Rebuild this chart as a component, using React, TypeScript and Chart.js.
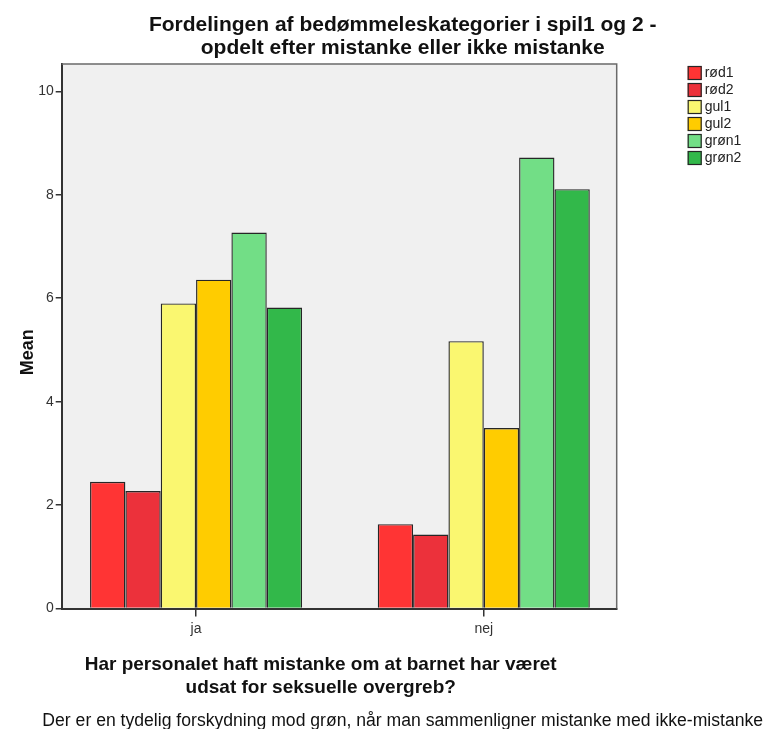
import React, { useEffect, useRef } from "react";
import { Chart, registerables } from "chart.js";

Chart.register(...registerables);

// ---- data ----
const categories = ["ja", "nej"];
const seriesLabels = ["rød1", "rød2", "gul1", "gul2", "grøn1", "grøn2"];
const rod1 = [2.45, 1.63];
const rod2 = [2.27, 1.43];
const gul1 = [5.9, 5.17];
const gul2 = [6.36, 3.49];
const gron1 = [7.27, 8.72];
const gron2 = [5.82, 8.11];
const seriesColors = ["#FF3434", "#EC313B", "#FAF770", "#FFCC00", "#72DE86", "#32B84A"];
const yTicks = [0, 2, 4, 6, 8, 10];
const yMax = 10.53;
const xMin = -0.467;
const xMax = 1.462;

const titleLines = [
  "Fordelingen af bedømmeleskategorier i spil1 og 2 -",
  "opdelt efter mistanke eller ikke mistanke",
];
const xTitleLines = [
  "Har personalet haft mistanke om at barnet har været",
  "udsat for seksuelle overgreb?",
];
const yTitle = "Mean";
const footerText =
  "Der er en tydelig forskydning mod grøn, når man sammenligner mistanke med ikke-mistanke";

const FONT = '"Liberation Sans", Arial, sans-serif';

const decorPlugin = {
  id: "decor",
  beforeDraw(chart: any) {
    const { ctx, chartArea: a } = chart;
    ctx.save();
    ctx.fillStyle = "#FFFFFF";
    ctx.fillRect(0, 0, chart.width, chart.height);
    ctx.fillStyle = "#F0F0F0";
    ctx.fillRect(a.left, a.top, a.right - a.left, a.bottom - a.top);
    ctx.restore();
  },
  afterDraw(chart: any) {
    const { ctx, chartArea: a } = chart;
    ctx.save();
    // frame top/right
    ctx.strokeStyle = "#6A6A6A";
    ctx.lineWidth = 1.5;
    ctx.beginPath();
    ctx.moveTo(a.left, a.top);
    ctx.lineTo(a.right, a.top);
    ctx.lineTo(a.right, a.bottom);
    ctx.stroke();

    // main title
    ctx.fillStyle = "#111111";
    ctx.textAlign = "center";
    ctx.textBaseline = "alphabetic";
    ctx.font = `bold 21px ${FONT}`;
    const cx = a.left + 341;
    ctx.fillText(titleLines[0], cx, a.top - 33);
    ctx.fillText(titleLines[1], cx, a.top - 10);

    // x axis title
    ctx.font = `bold 19px ${FONT}`;
    const xcx = a.left + 259;
    ctx.fillText(xTitleLines[0], xcx, a.bottom + 61);
    ctx.fillText(xTitleLines[1], xcx, a.bottom + 84);

    // footer
    ctx.font = `17.6px ${FONT}`;
    ctx.fillStyle = "#111111";
    ctx.fillText(footerText, cx, a.bottom + 117);

    // y axis title
    ctx.save();
    ctx.translate(a.left - 34, (a.top + a.bottom) / 2 + 16);
    ctx.rotate(-Math.PI / 2);
    ctx.font = `bold 18px ${FONT}`;
    ctx.textBaseline = "middle";
    ctx.fillText(yTitle, 0, 0);
    ctx.restore();

    // legend
    const lx = a.right + 71;
    const ly = a.top + 2;
    ctx.textAlign = "left";
    ctx.textBaseline = "middle";
    ctx.font = `14px ${FONT}`;
    chart.data.datasets.forEach((ds: any, i: number) => {
      const y = ly + i * 17;
      ctx.fillStyle = ds.backgroundColor;
      ctx.fillRect(lx, y, 14, 14);
      ctx.strokeStyle = "#262626";
      ctx.lineWidth = 1.2;
      ctx.strokeRect(lx + 0.5, y + 0.5, 13, 13);
      ctx.fillStyle = "#222222";
      ctx.fillText(ds.label, lx + 17, y + 7.5);
    });
    ctx.restore();
  },
};

export default function App() {
  const ref = useRef<HTMLCanvasElement | null>(null);

  useEffect(() => {
    if (!ref.current) return;
    const seriesValues = [rod1, rod2, gul1, gul2, gron1, gron2];
    const chart = new Chart(ref.current, {
      type: "bar",
      data: {
        datasets: seriesLabels.map((label, i) => ({
          label,
          data: seriesValues[i].map((v, j) => ({ x: j, y: v })),
          backgroundColor: seriesColors[i],
          borderColor: "#262626",
          borderWidth: 1.4,
          categoryPercentage: 0.737,
          barPercentage: 1.0,
        })),
      },
      options: {
        responsive: false,
        animation: false,
        devicePixelRatio: 1,
        layout: { padding: { left: 0, top: 64, right: 151.3, bottom: 0 } },
        plugins: {
          legend: { display: false },
          title: { display: false },
          tooltip: { enabled: false },
        },
        scales: {
          x: {
            type: "linear",
            min: xMin,
            max: xMax,
            offset: false,
            z: 1,
            grid: {
              display: true,
              offset: false,
              drawOnChartArea: false,
              drawTicks: true,
              tickLength: 8,
              color: "#333333",
              lineWidth: 1.5,
            },
            border: { display: true, color: "#333333", width: 2 },
            ticks: {
              color: "#333333",
              font: { family: FONT, size: 14 },
              padding: 4,
              callback: (v: any) => categories[v] ?? "",
            },
            afterBuildTicks(scale: any) {
              scale.ticks = categories.map((_, j) => ({ value: j }));
            },
            afterFit(scale: any) {
              scale.height = 120.5;
            },
          },
          y: {
            min: 0,
            max: yMax,
            grid: {
              display: true,
              drawOnChartArea: false,
              drawTicks: true,
              tickLength: 6,
              color: "#333333",
              lineWidth: 1.5,
            },
            border: { display: true, color: "#333333", width: 2 },
            ticks: {
              color: "#333333",
              font: { family: FONT, size: 14 },
              padding: 2,
            },
            afterBuildTicks(scale: any) {
              scale.ticks = yTicks.map((v) => ({ value: v }));
            },
            afterFit(scale: any) {
              scale.width = 61.7;
            },
          },
        },
      },
      plugins: [decorPlugin],
    });
    return () => chart.destroy();
  }, []);

  return (
    <div style={{ position: "absolute", left: 0, top: 0, width: 768, height: 729, background: "#fff" }}>
      <canvas ref={ref} width={768} height={729} style={{ width: 768, height: 729, display: "block" }} />
    </div>
  );
}
